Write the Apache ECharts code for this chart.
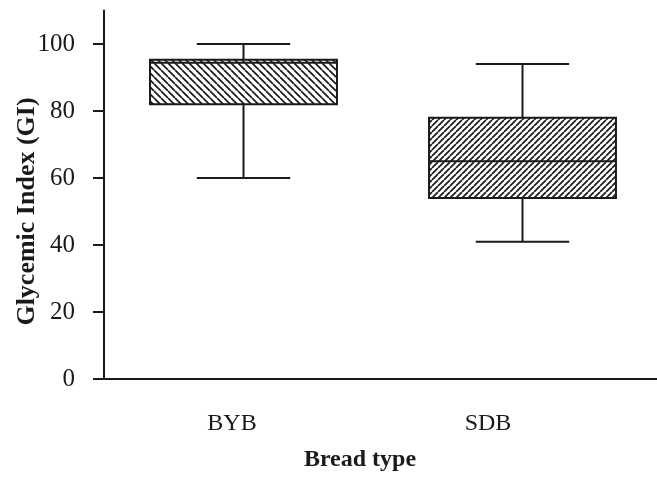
<!DOCTYPE html>
<html>
<head>
<meta charset="utf-8">
<script src="https://cdn.jsdelivr.net/npm/echarts@6/dist/echarts.min.js"></script>
<style>
html, body { margin: 0; padding: 0; background: #fff; }
#main { width: 657px; height: 480px; }
</style>
</head>
<body>
<div id="main"></div>
<script>
// bread types and box stats
var categories = ['BYB', 'SDB'];
var whiskerLow = [60, 41];
var q1 = [82, 54];
var median = [94.4, 65];
var q3 = [95.3, 78];
var whiskerHigh = [100, 94];
var yTicks = [0, 20, 40, 60, 80, 100];

var ink = '#1a1a1a';
var font = '"Liberation Serif", "DejaVu Serif", serif';

// hatch tiles: 1 = "\\\" lines, -1 = "///" lines
function hatch(size, dir) {
    var c = document.createElement('canvas');
    c.width = size; c.height = size;
    var ctx = c.getContext('2d');
    ctx.fillStyle = '#fff';
    ctx.fillRect(0, 0, size, size);
    ctx.strokeStyle = ink;
    ctx.lineWidth = 1.7;
    ctx.beginPath();
    for (var k = -1; k <= 1; k++) {
        if (dir > 0) {
            ctx.moveTo(k * size, 0);
            ctx.lineTo(k * size + size, size);
        } else {
            ctx.moveTo(k * size, size);
            ctx.lineTo(k * size + size, 0);
        }
    }
    ctx.stroke();
    return c;
}
var patterns = [
    { image: hatch(7, 1), repeat: 'repeat' },
    { image: hatch(6, -1), repeat: 'repeat' }
];

var boxData = categories.map(function (c, i) {
    return [i, whiskerLow[i], q1[i], median[i], q3[i], whiskerHigh[i]];
});

function renderBox(params, api) {
    var i = api.value(0);
    var band = api.size([1, 0])[0];
    var w = band * 0.67;
    var cap = w / 2;
    var lo = api.coord([i, api.value(1)]);
    var b1 = api.coord([i, api.value(2)]);
    var md = api.coord([i, api.value(3)]);
    var b3 = api.coord([i, api.value(4)]);
    var hi = api.coord([i, api.value(5)]);
    var x = lo[0];
    var lineStyle = { stroke: ink, lineWidth: 2 };
    return {
        type: 'group',
        children: [
            { type: 'line', shape: { x1: x, y1: hi[1], x2: x, y2: b3[1] }, style: lineStyle },
            { type: 'line', shape: { x1: x, y1: b1[1], x2: x, y2: lo[1] }, style: lineStyle },
            { type: 'line', shape: { x1: x - cap / 2, y1: hi[1], x2: x + cap / 2, y2: hi[1] }, style: lineStyle },
            { type: 'line', shape: { x1: x - cap / 2, y1: lo[1], x2: x + cap / 2, y2: lo[1] }, style: lineStyle },
            {
                type: 'rect',
                shape: { x: x - w / 2, y: b3[1], width: w, height: b1[1] - b3[1] },
                style: { fill: patterns[params.dataIndex], stroke: ink, lineWidth: 2 }
            },
            { type: 'line', shape: { x1: x - w / 2, y1: md[1], x2: x + w / 2, y2: md[1] }, style: lineStyle }
        ]
    };
}

var chart = echarts.init(document.getElementById('main'));
chart.setOption({
    animation: false,
    backgroundColor: '#fff',
    grid: [
        { left: 104, width: 558, top: 10.5, bottom: 101, outerBoundsMode: 'none' },
        { left: 104, width: 512, top: 44, bottom: 101, outerBoundsMode: 'none' }
    ],
    xAxis: [
        {
            type: 'category', gridIndex: 0, data: categories,
            axisLine: { lineStyle: { color: ink, width: 2 } },
            axisTick: { show: false }, axisLabel: { show: false }, splitLine: { show: false }
        },
        {
            type: 'category', gridIndex: 1, data: categories,
            axisLine: { show: false },
            axisTick: { alignWithLabel: true, length: 11, lineStyle: { color: ink, width: 2 } },
            axisLabel: { color: ink, fontFamily: font, fontSize: 24, margin: 33 },
            name: 'Bread type', nameLocation: 'middle', nameGap: 69,
            nameTextStyle: { color: ink, fontFamily: font, fontSize: 24, fontWeight: 'bold' }
        }
    ],
    yAxis: [
        {
            type: 'value', gridIndex: 0, min: 0, max: 110, interval: 20,
            axisLine: { show: true, lineStyle: { color: ink, width: 2 } },
            axisTick: { show: true, length: 11, customValues: yTicks, lineStyle: { color: ink, width: 2 } },
            axisLabel: { color: ink, fontFamily: font, fontSize: 25, margin: 29, customValues: yTicks },
            splitLine: { show: false }
        },
        {
            type: 'value', gridIndex: 1, min: 0, max: 100,
            axisLine: { show: false }, axisTick: { show: false },
            axisLabel: { show: false }, splitLine: { show: false },
            name: 'Glycemic Index (GI)', nameLocation: 'middle', nameGap: 64,
            nameTextStyle: { color: ink, fontFamily: font, fontSize: 26, fontWeight: 'bold' }
        }
    ],
    series: [{
        type: 'custom',
        xAxisIndex: 0, yAxisIndex: 0,
        data: boxData,
        renderItem: renderBox
    }]
});
</script>
</body>
</html>
